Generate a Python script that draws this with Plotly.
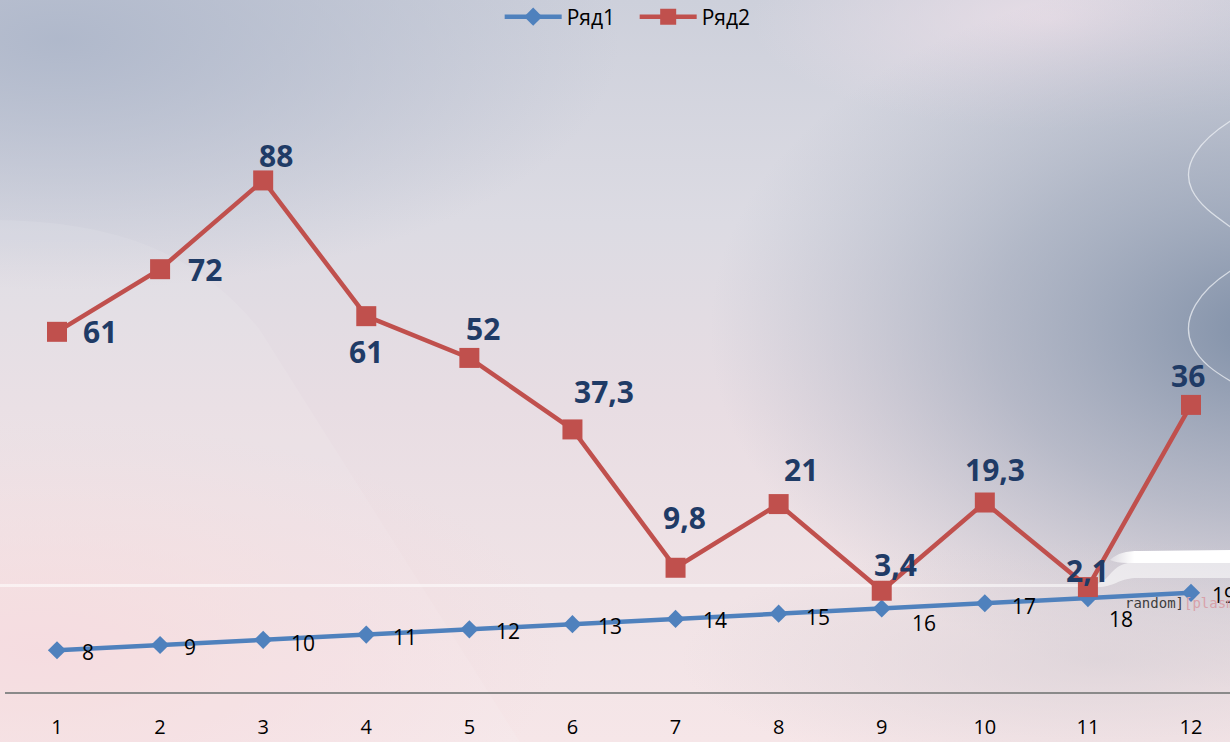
import base64
import plotly.graph_objects as go

# ---- data ----
categories = [1, 2, 3, 4, 5, 6, 7, 8, 9, 10, 11, 12]
series1_name = "Ряд1"
series2_name = "Ряд2"
series1 = [8, 9, 10, 11, 12, 13, 14, 15, 16, 17, 18, 19]
series2 = [61, 72, 88, 61, 52, 37.3, 9.8, 21, 3.4, 19.3, 2.1, 36]

# ---- label placement (pixel offsets from each marker) ----
s2_label_shift = [(43, 0), (45, 0), (13, 25), (0, -35), (14, 29), (32, 38),
                  (9, 50), (22, 35), (14, 26), (10, 33), (0, 17), (-3, 29)]
s1_label_shift = [(31, -2), (30, -2), (40, -3), (39, -2), (39, -2), (38, -2),
                  (39, -1), (39, -3), (42, -15), (39, -3), (33, -21), (33, -2)]

BLUE = "#4f81bd"
RED = "#c0504d"
NAVY = "#1f3b66"
FONT = "Open Sans, Liberation Sans, sans-serif"

W, H = 1230, 742
M_L, M_R, M_T, M_B = 5, 0, 50, 50
PW, PH = W - M_L - M_R, H - M_T - M_B


def fmt(v):
    s = f"{v:g}"
    return s.replace(".", ",")


# ---- slide-style background ----
bg_svg = f"""<svg xmlns='http://www.w3.org/2000/svg' width='{W}' height='{H}' viewBox='0 0 {W} {H}' preserveAspectRatio='none'>
<defs>
<linearGradient id='base' x1='0' y1='0' x2='0' y2='1'>
<stop offset='0' stop-color='#cdd0db'/>
<stop offset='0.3' stop-color='#dcdbe3'/>
<stop offset='0.55' stop-color='#e8dde3'/>
<stop offset='0.8' stop-color='#f0e3e6'/>
<stop offset='1' stop-color='#f6e6e8'/>
</linearGradient>
<radialGradient id='tl' cx='0' cy='0' r='1' gradientUnits='userSpaceOnUse' gradientTransform='translate(60 40) scale(560 250)'>
<stop offset='0' stop-color='#aeb7ca' stop-opacity='0.95'/>
<stop offset='1' stop-color='#aeb7ca' stop-opacity='0'/>
</radialGradient>
<radialGradient id='rt' cx='0' cy='0' r='1' gradientUnits='userSpaceOnUse' gradientTransform='translate(1270 330) scale(560 360)'>
<stop offset='0' stop-color='#7f8fa7' stop-opacity='1'/>
<stop offset='0.5' stop-color='#95a1b5' stop-opacity='0.6'/>
<stop offset='1' stop-color='#a4aec0' stop-opacity='0'/>
</radialGradient>
<radialGradient id='tr' cx='0' cy='0' r='1' gradientUnits='userSpaceOnUse' gradientTransform='translate(1050 20) scale(300 110)'>
<stop offset='0' stop-color='#ecdfe8' stop-opacity='0.8'/>
<stop offset='1' stop-color='#ecdfe8' stop-opacity='0'/>
</radialGradient>
<radialGradient id='bl' cx='0' cy='0' r='1' gradientUnits='userSpaceOnUse' gradientTransform='translate(40 650) scale(520 230)'>
<stop offset='0' stop-color='#f5d8dc' stop-opacity='0.9'/>
<stop offset='1' stop-color='#f5d8dc' stop-opacity='0'/>
</radialGradient>
<radialGradient id='br' cx='0' cy='0' r='1' gradientUnits='userSpaceOnUse' gradientTransform='translate(1100 660) scale(420 120)'>
<stop offset='0' stop-color='#d8d0d6' stop-opacity='0.7'/>
<stop offset='1' stop-color='#d8d0d6' stop-opacity='0'/>
</radialGradient>
<linearGradient id='band' x1='0' y1='0' x2='1' y2='0'>
<stop offset='0' stop-color='#ffffff' stop-opacity='0.3'/>
<stop offset='0.2' stop-color='#ffffff' stop-opacity='1'/>
<stop offset='1' stop-color='#ffffff' stop-opacity='1'/>
</linearGradient>
</defs>
<rect width='{W}' height='{H}' fill='url(#base)'/>
<rect width='{W}' height='{H}' fill='url(#tl)'/>
<rect width='{W}' height='{H}' fill='url(#tr)'/>
<rect width='{W}' height='{H}' fill='url(#rt)'/>
<rect width='{W}' height='{H}' fill='url(#bl)'/>
<rect width='{W}' height='{H}' fill='url(#br)'/>
<path d='M0,220 C120,222 200,255 260,330 L520,742 L0,742 Z' fill='#ffffff' fill-opacity='0.09'/>
<path d='M0,584 L1095,584 C1108,584 1110,566 1128,563 L1230,562 L1230,578 L1135,578 C1118,579 1114,587 1098,587 L0,587 Z' fill='#ffffff' fill-opacity='0.55'/>
<path d='M1110,560 C1118,553 1125,551 1140,551 L1230,550 L1230,563 L1128,563 C1120,563 1114,562 1110,560 Z' fill='url(#band)'/>
<path d='M1232,120 C1200,140 1180,165 1192,190 C1200,206 1215,216 1232,228' fill='none' stroke='#eef0f4' stroke-opacity='0.75' stroke-width='1.3'/>
<path d='M1232,270 C1200,290 1180,318 1192,345 C1200,362 1215,372 1232,382' fill='none' stroke='#eef0f4' stroke-opacity='0.75' stroke-width='1.3'/>
</svg>"""
bg_uri = "data:image/svg+xml;base64," + base64.b64encode(bg_svg.encode("utf-8")).decode("ascii")

# series 2 sits on top of series 1 (stacked lines)
stack_top = [a + b for a, b in zip(series1, series2)]

fig = go.Figure()
fig.add_trace(go.Scatter(
    x=categories, y=series1, name=series1_name, mode="lines+markers",
    stackgroup="s", fill="none",
    line=dict(color=BLUE, width=4.5),
    marker=dict(symbol="diamond", size=14, color=BLUE),
    hoverinfo="skip",
))
fig.add_trace(go.Scatter(
    x=categories, y=series2, name=series2_name, mode="lines+markers",
    stackgroup="s", fill="none",
    line=dict(color=RED, width=4.5),
    marker=dict(symbol="square", size=20, color=RED),
    hoverinfo="skip",
))

annotations = []
for x, v, (dx, dy) in zip(categories, series1, s1_label_shift):
    annotations.append(dict(
        x=x, y=v, xref="x", yref="y", text=fmt(v), showarrow=False,
        xshift=dx, yshift=dy, font=dict(family=FONT, size=21, color="#000000"),
    ))
for x, top, v, (dx, dy) in zip(categories, stack_top, series2, s2_label_shift):
    annotations.append(dict(
        x=x, y=top, xref="x", yref="y", text=f"<b>{fmt(v)}</b>", showarrow=False,
        xshift=dx, yshift=dy, font=dict(family=FONT, size=30, color=NAVY),
    ))
# stray slide text near the right edge
annotations.append(dict(
    x=(1123 - M_L) / PW, y=1 - (603 - M_T) / PH, xref="paper", yref="paper",
    showarrow=False, xanchor="left", yanchor="middle",
    text="<span style='color:#3d3d3d'>random]</span><span style='color:#d8a2aa'>[plasma</span>",
    font=dict(family="DejaVu Sans Mono, monospace", size=14),
))

x_lo = 1 - (57 - M_L) / 103.1
x_hi = 12 + (W - 1191) / 103.1

fig.update_layout(
    width=W, height=H,
    margin=dict(l=M_L, r=M_R, t=M_T, b=M_B, autoexpand=False),
    paper_bgcolor="#e4dde3",
    plot_bgcolor="rgba(0,0,0,0)",
    font=dict(family=FONT, color="#000000"),
    showlegend=True,
    legend=dict(
        orientation="h", x=0.516, xanchor="center", xref="container",
        y=1 - 17 / H, yanchor="middle", yref="container",
        font=dict(family=FONT, size=21, color="#000000"),
        bgcolor="rgba(0,0,0,0)", itemwidth=57,
        entrywidth=63, entrywidthmode="pixels",
    ),
    xaxis=dict(
        type="linear", range=[x_lo, x_hi], tickvals=categories,
        ticktext=[str(c) for c in categories],
        showline=True, linecolor="#8a8a8a", linewidth=1.5,
        showgrid=False, zeroline=False, automargin=False,
        ticks="outside", ticklen=16, tickcolor="rgba(0,0,0,0)",
        tickfont=dict(family=FONT, size=20, color="#000000"),
        fixedrange=True,
    ),
    yaxis=dict(
        range=[0, PH / 5.22], visible=False, showgrid=False, zeroline=False,
        fixedrange=True, automargin=False,
    ),
    annotations=annotations,
    images=[dict(
        source=bg_uri, xref="paper", yref="paper",
        x=-M_L / PW, y=1 + M_T / PH, sizex=W / PW, sizey=H / PH,
        xanchor="left", yanchor="top", sizing="stretch", layer="below",
    )],
)

fig.write_html("out.html", include_plotlyjs=True, config={"displayModeBar": False})
